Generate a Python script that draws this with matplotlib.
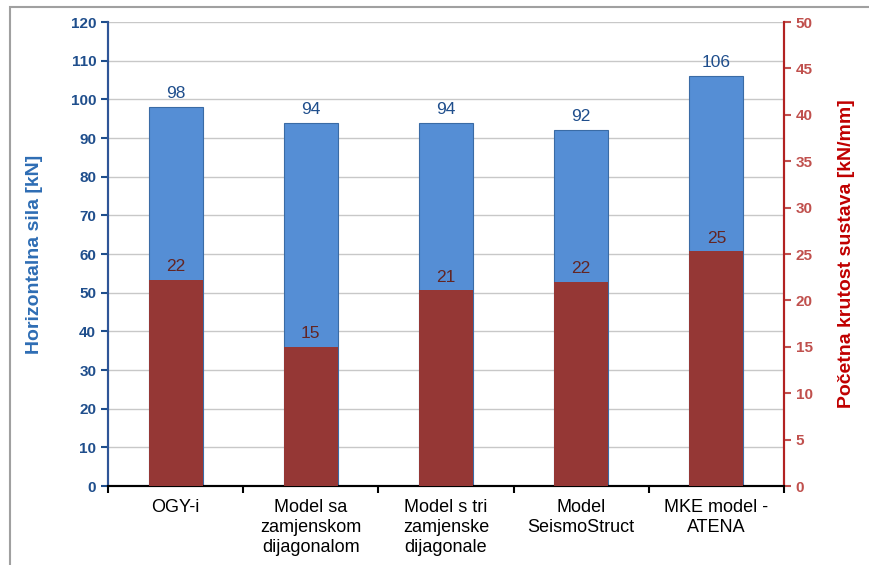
import numpy as np
import matplotlib.pyplot as plt
from matplotlib.patches import Rectangle

plt.rcParams['font.family'] = ['Liberation Sans', 'DejaVu Sans']

# data
categories = ["OGY-i", "Model sa\nzamjenskom\ndijagonalom", "Model s tri\nzamjenske\ndijagonale",
              "Model\nSeismoStruct", "MKE model -\nATENA"]
sila = [98, 94, 94, 92, 106]               # horizontalna sila [kN]
krutost = [22.2, 15.0, 21.1, 22.0, 25.3]   # pocetna krutost [kN/mm]

blue = "#558ED5"
blue_dark = "#1F4E8C"
red = "#953735"
red_tick = "#C0504D"

fig = plt.figure(figsize=(8.69, 5.65), dpi=100)
fig.patches.append(Rectangle((10 / 869, -0.05), 1, 1.05 - 7 / 565, transform=fig.transFigure,
                             fill=False, edgecolor="#A0A0A0", linewidth=1.5))
ax = fig.add_axes([108 / 869, 1 - 486 / 565, 676 / 869, 464 / 565])
ax2 = ax.twinx()

x = np.arange(len(categories))
w = 0.4
ax.bar(x, sila, w, color=blue, edgecolor="#3A6BA5", linewidth=0.8, zorder=2)
ax.set_ylim(0, 120)
ax.set_yticks(np.arange(0, 121, 10))
ax.set_xlim(-0.5, len(categories) - 0.5)
ax.grid(axis="y", color="#C8C8C8", linewidth=1, zorder=0)
ax.set_axisbelow(True)

ax2.bar(x, krutost, w, color=red, zorder=3)
ax2.set_ylim(0, 50)
ax2.set_yticks(np.arange(0, 51, 5))

for xi, v in zip(x, sila):
    ax.text(xi, v + 1.5, f"{v:.0f}", ha="center", va="bottom", fontsize=12.5, color=blue_dark)
for xi, v in zip(x, krutost):
    ax2.text(xi, v + 0.6, f"{v:.0f}", ha="center", va="bottom", fontsize=12.5, color="#632523")

ax.set_xticks(np.arange(-0.5, len(categories), 1))
ax.set_xticklabels([])
ax.set_xticks(x, minor=True)
ax.set_xticklabels(categories, minor=True, fontsize=13, color="black", linespacing=1.25)
ax.tick_params(axis="x", which="minor", length=0, pad=9)
ax.tick_params(axis="x", which="major", length=5, width=1.5, color="black")

ax.tick_params(axis="y", colors=blue_dark, labelsize=11, length=5, width=1.5)
for lab in ax.get_yticklabels():
    lab.set_fontweight("bold")
ax2.tick_params(axis="y", colors=red_tick, labelsize=11, length=5, width=1.5)
for lab in ax2.get_yticklabels():
    lab.set_fontweight("bold")

for a in (ax, ax2):
    a.spines["top"].set_visible(False)
    a.spines["left"].set_color("#2F5597")
    a.spines["left"].set_linewidth(1.5)
    a.spines["right"].set_color("#B22222")
    a.spines["right"].set_linewidth(1.5)
    a.spines["bottom"].set_color("black")
    a.spines["bottom"].set_linewidth(1.5)

ax.set_ylabel("Horizontalna sila [kN]", fontsize=14, color="#2E6DB4", fontweight="bold",
              labelpad=20)
ax2.set_ylabel("Početna krutost sustava [kN/mm]", fontsize=14, color="#C00000",
               fontweight="bold", labelpad=18)

plt.savefig("out.png", dpi=100)
